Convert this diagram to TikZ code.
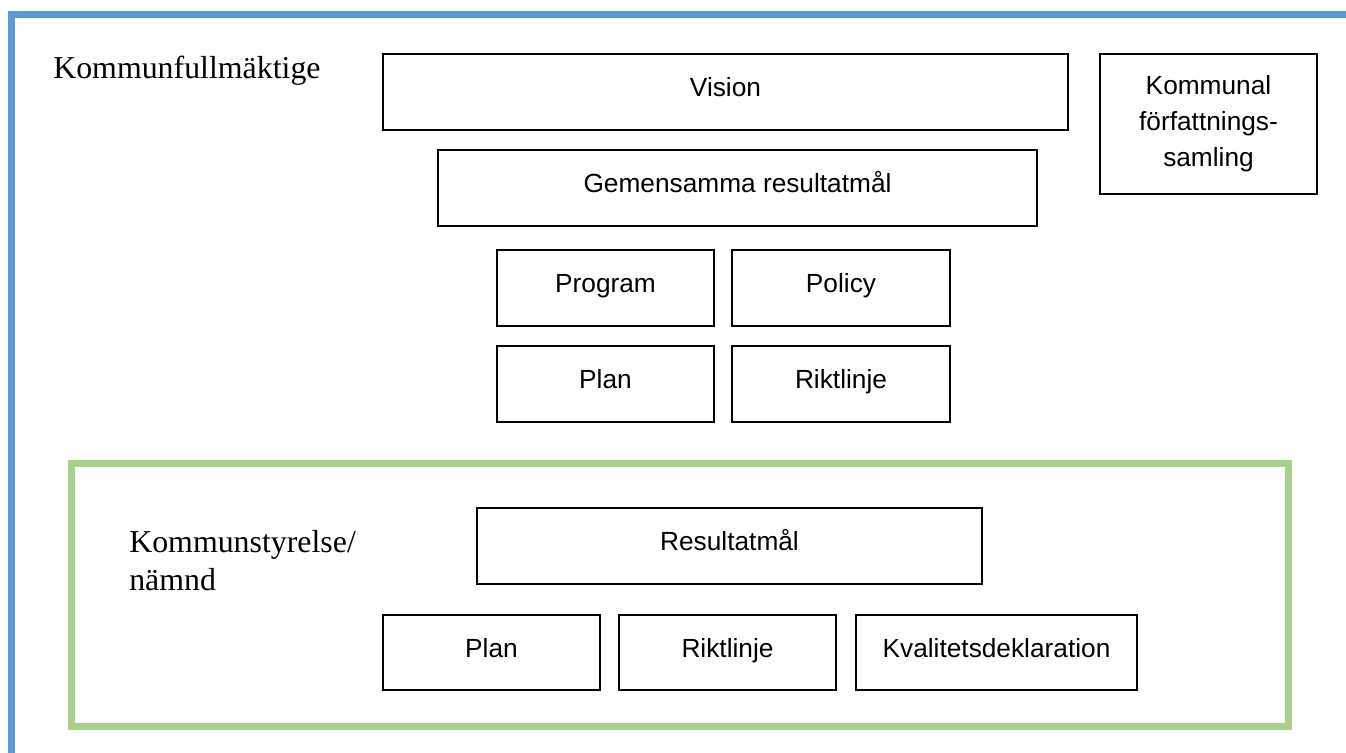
\documentclass[tikz,border=0pt]{standalone}
\usepackage{fontspec}
\setmainfont{Liberation Serif}
\newfontfamily\boxfont{Liberation Sans}
\usepackage{tikz}
\usetikzlibrary{positioning}

\definecolor{frameblue}{HTML}{5B9BD5}
\definecolor{framegreen}{HTML}{A9D18E}

\tikzset{
	doc/.style={draw=black, line width=1.1pt, inner sep=0pt, align=center,
		font=\boxfont\fontsize{19.7}{27}\selectfont},
	onedoc/.style={doc, text height=14pt, text depth=7pt},
	level/.style={inner sep=0pt, align=left, anchor=base west,
		font=\fontsize{23.9}{27.8}\selectfont},
}

\begin{document}
\begin{tikzpicture}[x=0.75pt, y=-0.75pt]
			\useasboundingbox (0,0) rectangle (1346,753);
			\draw[frameblue, line width=5.25pt] (11,760) -- (11,14.5) -- (1352,14.5);
			\draw[framegreen, line width=5.25pt] (71,463.5) rectangle (1288.5,726.5);
			
			% Kommunfullmaktige
			\node[level] (kf) at (53,78) {Kommunfullmäktige};
			\node[onedoc, minimum width=685*0.75pt, minimum height=76*0.75pt] (vision) at (725.5,92) {Vision};
			\node[doc, minimum width=217*0.75pt, minimum height=140*0.75pt] (kfs) at (1208.5,124) {Kommunal\\författnings-\\samling};
			\node[onedoc, minimum width=599*0.75pt, minimum height=76*0.75pt] (gemensamma) at (737.5,188) {Gemensamma resultatmål};
			\node[onedoc, minimum width=217*0.75pt, minimum height=76*0.75pt] (program) at (605.5,288) {Program};
			\node[onedoc, minimum width=218*0.75pt, minimum height=76*0.75pt] (policy) at (841,288) {Policy};
			\node[onedoc, minimum width=217*0.75pt, minimum height=76*0.75pt] (plan) at (605.5,384) {Plan};
			\node[onedoc, minimum width=218*0.75pt, minimum height=76*0.75pt] (riktlinje) at (841,384) {Riktlinje};
			
			% Kommunstyrelse / namnd
			\node[level] (ks) at (129,590) {Kommunstyrelse/\\nämnd};
			\node[onedoc, minimum width=505*0.75pt, minimum height=76*0.75pt] (resultatmal) at (729.5,546) {Resultatmål};
			\node[onedoc, minimum width=217*0.75pt, minimum height=75*0.75pt] (ksplan) at (491.5,652.5) {Plan};
			\node[onedoc, minimum width=217*0.75pt, minimum height=75*0.75pt] (ksriktlinje) at (727.5,652.5) {Riktlinje};
			\node[onedoc, minimum width=281*0.75pt, minimum height=75*0.75pt] (kvalitet) at (996.5,652.5) {Kvalitetsdeklaration};
\end{tikzpicture}
\end{document}
